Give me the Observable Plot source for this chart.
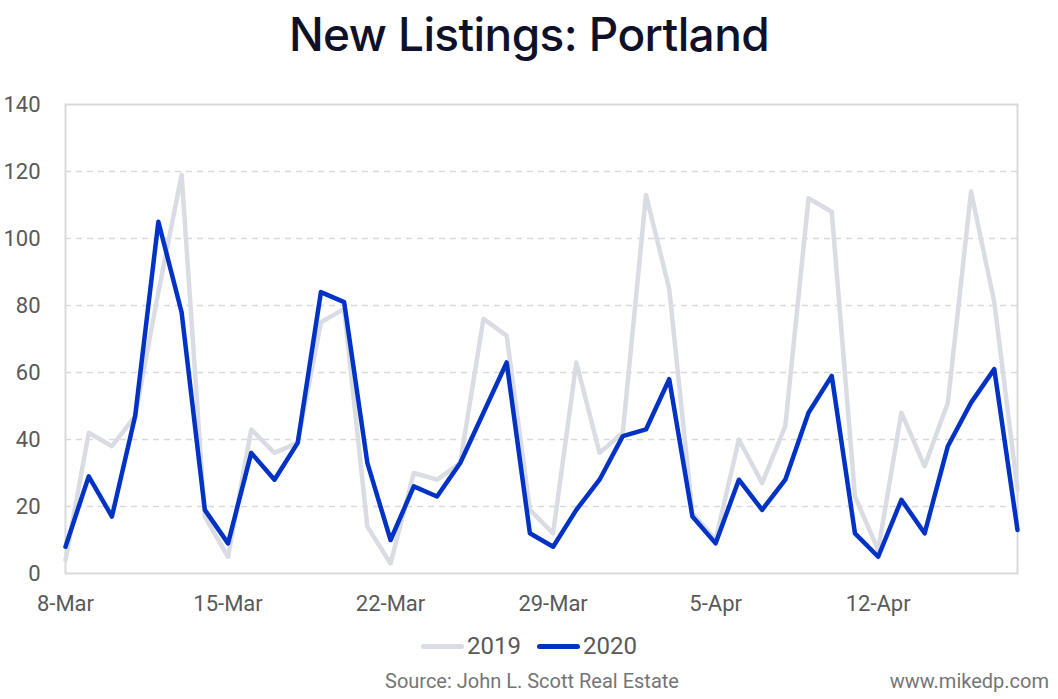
<!DOCTYPE html>
<html>
<head>
<meta charset="utf-8">
<script src="https://cdn.jsdelivr.net/npm/d3@7"></script>
<script src="https://cdn.jsdelivr.net/npm/@observablehq/plot@0.6"></script>
<style>
  html, body { margin: 0; padding: 0; background: #fff; }
  body { width: 1058px; height: 699px; position: relative; overflow: hidden; font-family: Roboto, sans-serif; }
  #title { position: absolute; left: 0; top: 6px; width: 1058px; text-align: center; font-family: Inter, "Noto Sans", sans-serif; font-size: 46px; font-weight: 500; color: #0e1129; letter-spacing: -0.6px; }
  #chart { position: absolute; left: 0; top: 75px; }
  #legend { position: absolute; left: 0; top: 632px; width: 1058px; display: flex; justify-content: center; align-items: center; font-size: 24px; color: #595959; }
  .sw { display: inline-block; width: 43px; height: 5px; border-radius: 3px; margin-right: 3px; }
  .item { display: flex; align-items: center; margin: 0 8px; }
  #source { position: absolute; left: 385px; top: 669px; font-size: 20px; color: #757575; }
  #site { position: absolute; right: 9px; top: 669px; font-size: 20px; color: #757575; }
</style>
</head>
<body>
<div id="title">New Listings: Portland</div>
<div id="chart"></div>
<div id="legend"></div>
<div id="source">Source: John L. Scott Real Estate</div>
<div id="site">www.mikedp.com</div>
<script>
const startDate = new Date(Date.UTC(2020, 2, 8));
const endDate = new Date(Date.UTC(2020, 3, 19));
const dates = d3.utcDay.range(startDate, endDate); // 8-Mar .. 18-Apr (42 days)

const values2019 = [4,42,38,47,84,119,17,5,43,36,39,75,79,14,3,30,28,33,76,71,19,12,63,36,42,113,85,18,10,40,27,44,112,108,23,7,48,32,51,114,81,25];
const values2020 = [8,29,17,47,105,78,19,9,36,28,39,84,81,33,10,26,23,33,48,63,12,8,19,28,41,43,58,17,9,28,19,28,48,59,12,5,22,12,38,51,61,13];

const seriesNames = ["2019", "2020"];
const seriesColors = ["#d9dce3", "#0033c4"];

const xTickDates = [
  new Date(Date.UTC(2020, 2, 8)), new Date(Date.UTC(2020, 2, 15)), new Date(Date.UTC(2020, 2, 22)),
  new Date(Date.UTC(2020, 2, 29)), new Date(Date.UTC(2020, 3, 5)), new Date(Date.UTC(2020, 3, 12))
];
const yTicks = [0, 20, 40, 60, 80, 100, 120, 140];
const gridTicks = [20, 40, 60, 80, 100, 120];

const rows = [];
dates.forEach((d, i) => {
  rows.push({date: d, value: values2019[i], series: "2019"});
  rows.push({date: d, value: values2020[i], series: "2020"});
});

const fmt = d3.utcFormat("%-d-%b");

const chart = Plot.plot({
  width: 1058,
  height: 550,
  marginLeft: 65,
  marginRight: 41,
  marginTop: 29,
  marginBottom: 52,
  style: { fontFamily: "Roboto, sans-serif", fontSize: "22px", color: "#595959", background: "#fff" },
  x: { type: "utc", domain: [dates[0], dates[dates.length - 1]] },
  y: { domain: [0, 140] },
  color: { domain: seriesNames, range: seriesColors },
  marks: [
    Plot.ruleY(gridTicks, { stroke: "#d9d9d9", strokeWidth: 1.5, strokeDasharray: "6,5" }),
    Plot.frame({ stroke: "#d9d9d9", strokeWidth: 2 }),
    Plot.axisY(yTicks, { tickSize: 0, tickPadding: 25, fill: "#595959", fontSize: 22, label: null }),
    Plot.axisX(xTickDates, { tickSize: 0, tickPadding: 22, fill: "#595959", fontSize: 22, tickFormat: fmt, label: null }),
    Plot.line(rows, { x: "date", y: "value", z: "series", stroke: "series", strokeWidth: 4.5, strokeLinejoin: "round", strokeLinecap: "round" })
  ]
});
document.getElementById("chart").appendChild(chart);

const legend = document.getElementById("legend");
seriesNames.forEach((name, i) => {
  const item = document.createElement("div");
  item.className = "item";
  const sw = document.createElement("span");
  sw.className = "sw";
  sw.style.background = seriesColors[i];
  const t = document.createElement("span");
  t.textContent = name;
  item.appendChild(sw);
  item.appendChild(t);
  legend.appendChild(item);
});
</script>
</body>
</html>
